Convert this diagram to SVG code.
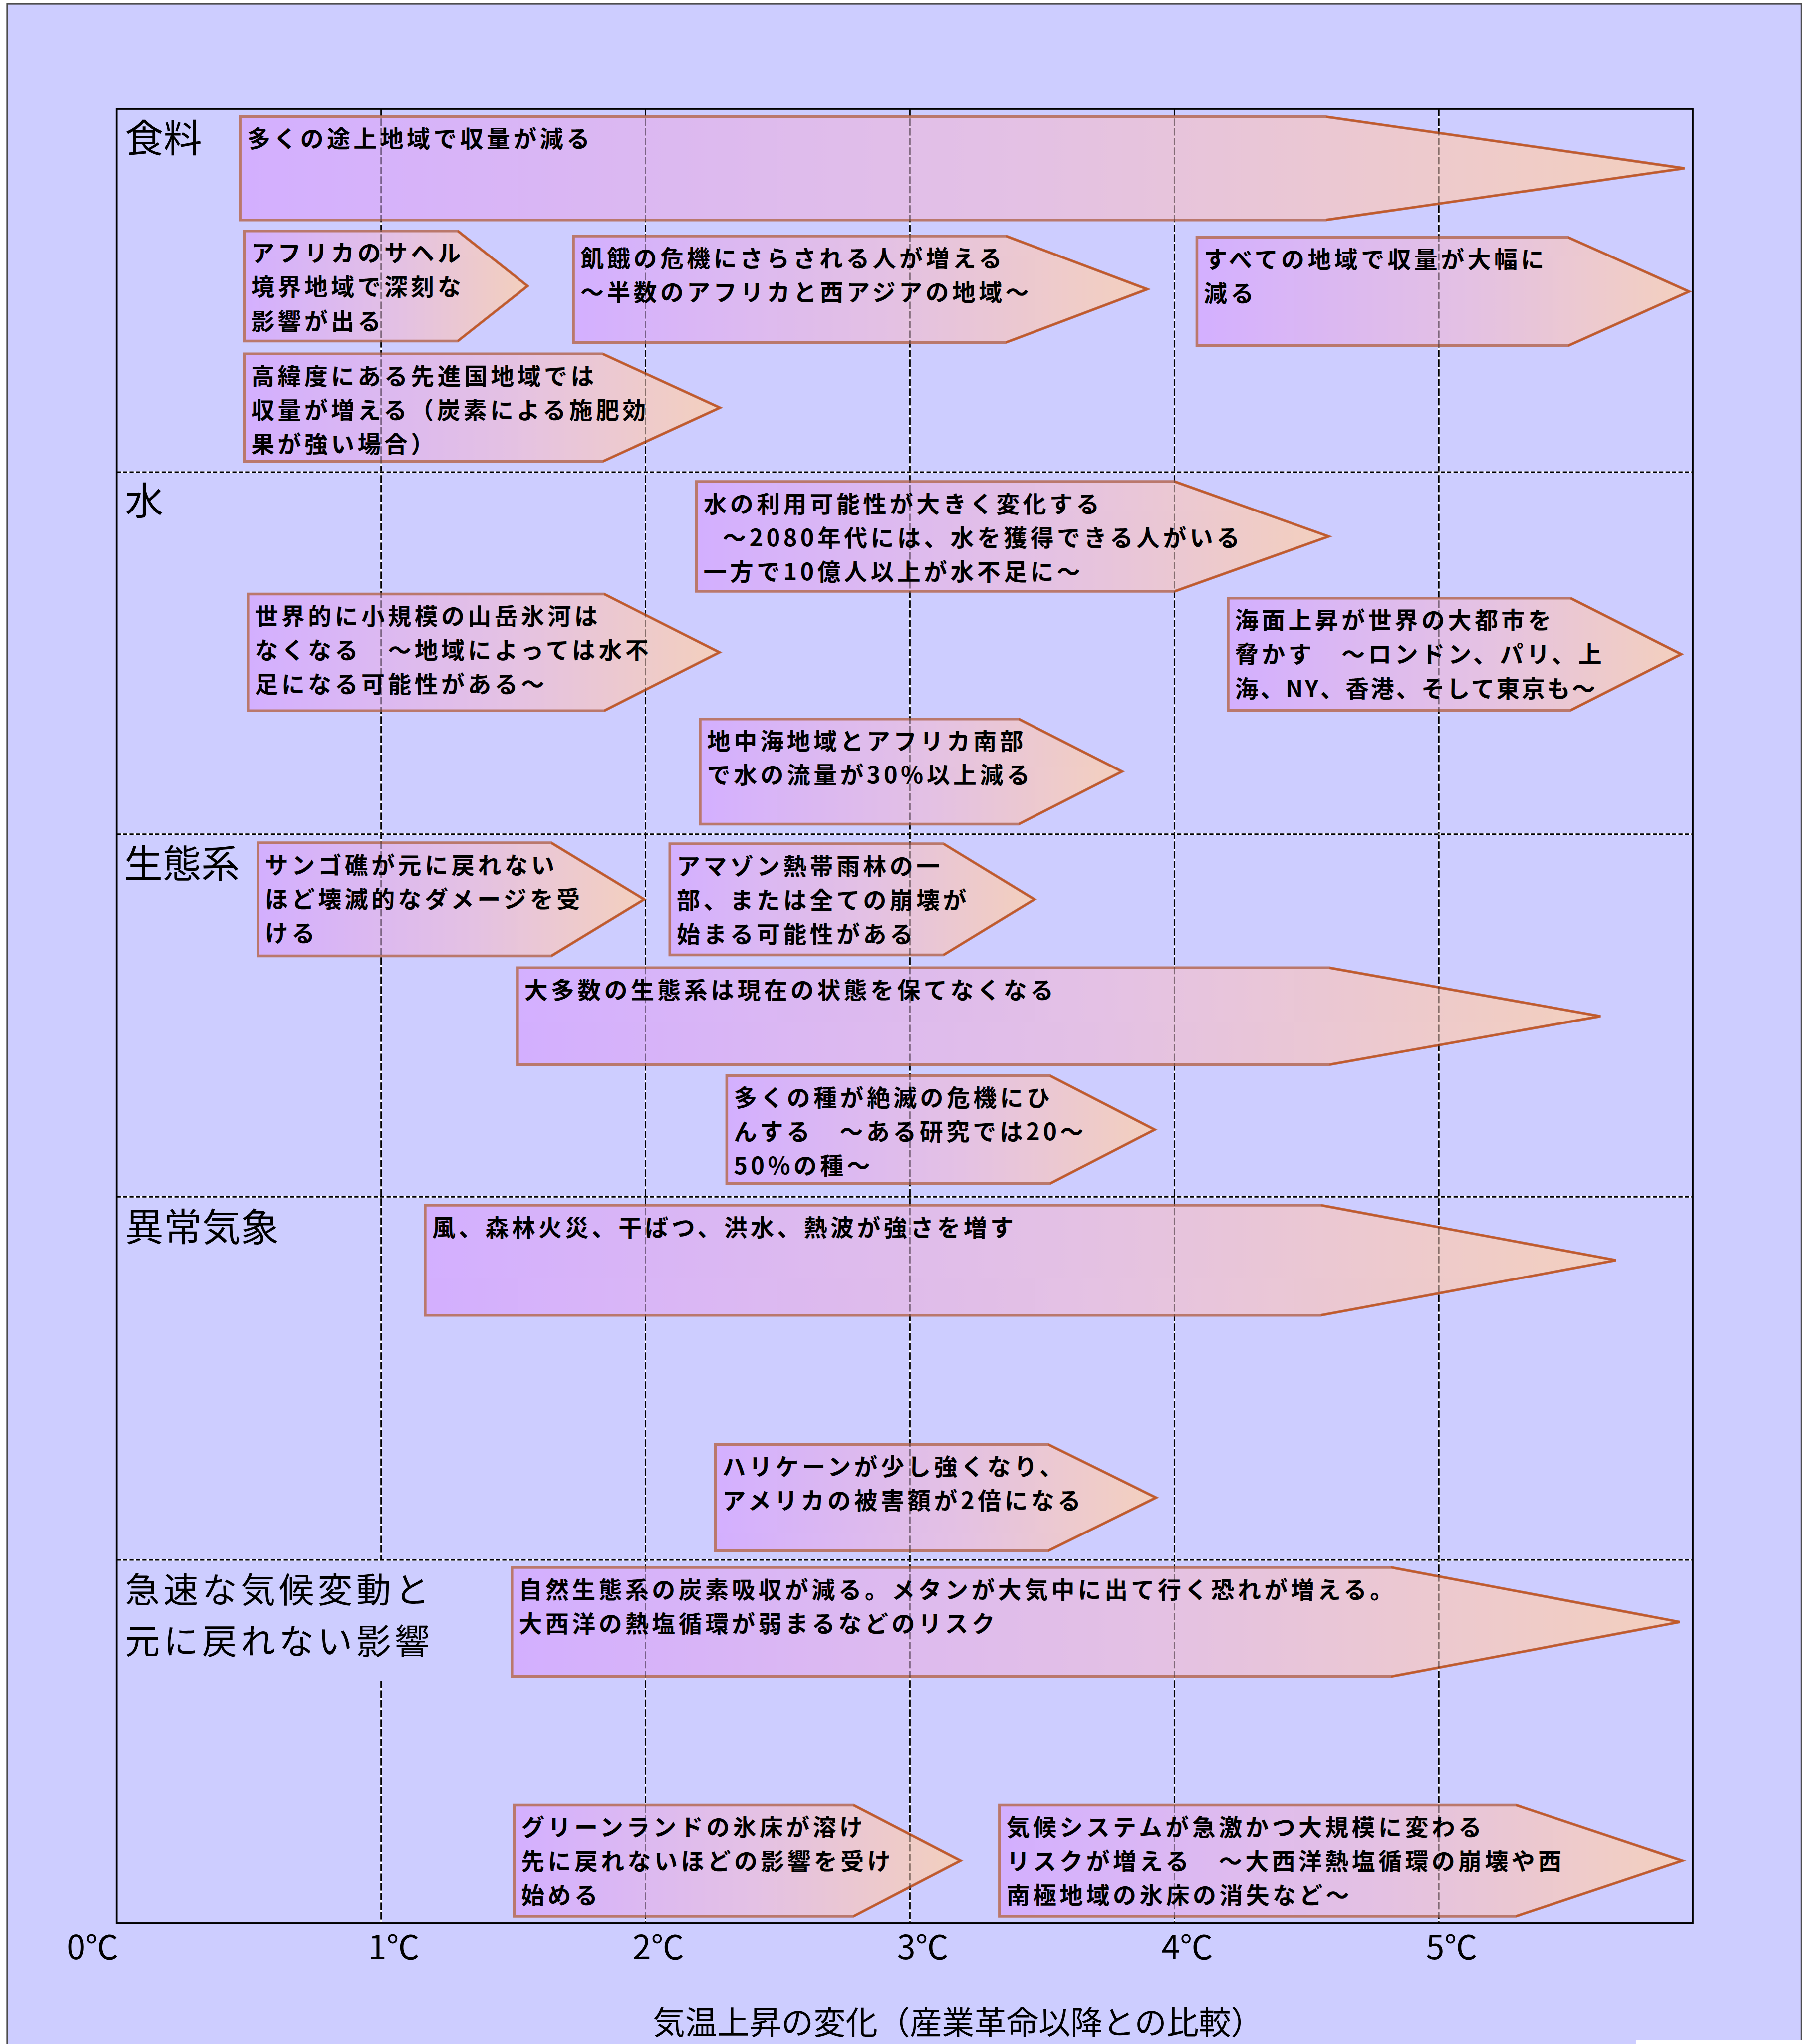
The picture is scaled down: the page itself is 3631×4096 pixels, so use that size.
<svg xmlns="http://www.w3.org/2000/svg" width="3631" height="4096" viewBox="0 0 3631 4096">
<defs>
<linearGradient id="g" x1="0" y1="0" x2="1" y2="0">
<stop offset="0" stop-color="#D4AAFF"/>
<stop offset="0.55" stop-color="#E8BFDF"/>
<stop offset="1" stop-color="#FAD0B2"/>
</linearGradient>
<style>
.arrow polygon{fill:url(#g);fill-opacity:0.85;stroke:#BA786C;stroke-width:6;stroke-linejoin:miter}
.arrow polyline{fill:none;stroke:#C25A2A;stroke-width:4}
.arrow text{font-family:"Noto Sans CJK JP","Noto Sans CJK SC",sans-serif;font-size:51px;letter-spacing:7px;font-weight:700;fill:#000}
.lbl{font-family:"Noto Sans CJK JP","Noto Sans CJK SC",sans-serif;font-size:84px;fill:#000}
.lbl2{font-family:"Noto Sans CJK JP","Noto Sans CJK SC",sans-serif;font-size:76px;letter-spacing:8px;fill:#000}
.ax{font-family:"Noto Sans CJK JP","Noto Sans CJK SC",sans-serif;font-size:72px;fill:#000;text-anchor:middle}
.ttl{font-family:"Noto Sans CJK JP","Noto Sans CJK SC",sans-serif;font-size:70px;fill:#000}
.vw{stroke:#fff;stroke-width:3}
.vd{stroke:#000;stroke-width:3;stroke-dasharray:16 5}
.hd{stroke:#000;stroke-width:3;stroke-dasharray:9 5}
.ov{stroke:#000;stroke-width:3;stroke-dasharray:16 5;opacity:0.35}
</style>
</defs>
<g transform="scale(0.92)">
<rect width="3946" height="4451" fill="#fff"/>
<rect x="16" y="9" width="3907" height="4460" fill="#CDCDFF" stroke="#4d4d4d" stroke-width="3"/>
<rect x="3563" y="4443" width="362" height="10" fill="#fff"/>

<g id="grid">
<g class="vw">
<line x1="830" y1="237" x2="830" y2="3398"/><line x1="830" y1="3661" x2="830" y2="4189"/>
<line x1="1406" y1="237" x2="1406" y2="4189"/>
<line x1="1982" y1="237" x2="1982" y2="4189"/>
<line x1="2558" y1="237" x2="2558" y2="4189"/>
<line x1="3134" y1="237" x2="3134" y2="4189"/>
</g>
<g class="vd">
<line x1="830" y1="237" x2="830" y2="3398"/><line x1="830" y1="3661" x2="830" y2="4189"/>
<line x1="1406" y1="237" x2="1406" y2="4189"/>
<line x1="1982" y1="237" x2="1982" y2="4189"/>
<line x1="2558" y1="237" x2="2558" y2="4189"/>
<line x1="3134" y1="237" x2="3134" y2="4189"/>
</g>
<g class="vw">
<line x1="254" y1="1028" x2="3687" y2="1028"/>
<line x1="254" y1="1817" x2="3687" y2="1817"/>
<line x1="254" y1="2607" x2="3687" y2="2607"/>
<line x1="254" y1="3398" x2="3687" y2="3398"/>
</g>
<g class="hd">
<line x1="254" y1="1028" x2="3687" y2="1028"/>
<line x1="254" y1="1817" x2="3687" y2="1817"/>
<line x1="254" y1="2607" x2="3687" y2="2607"/>
<line x1="254" y1="3398" x2="3687" y2="3398"/>
</g>
<rect x="254" y="237" width="3433" height="3952" fill="none" stroke="#000" stroke-width="4"/>
</g>

<g id="labels">
<text class="lbl" x="272" y="331">食料</text>
<text class="lbl" x="272" y="1122">水</text>
<text class="lbl" x="270" y="1912">生態系</text>
<text class="lbl" x="272" y="2703">異常気象</text>
<text class="lbl2"><tspan x="272" y="3491">急速な気候変動と</tspan><tspan x="272" y="3603">元に戻れない影響</tspan></text>
</g>

<g id="A1" class="arrow"><polygon points="523,254 2888,254 3669,366.5 2888,479 523,479"/><polyline points="2888,254 3669,366.5 2888,479"/>
<text x="538" y="321">多くの途上地域で収量が減る</text></g>
<g id="A2" class="arrow"><polygon points="532,503 997,503 1149,623 997,743 532,743"/><polyline points="997,503 1149,623 997,743"/>
<text><tspan x="547" y="570">アフリカのサヘル</tspan><tspan x="547" y="644">境界地域で深刻な</tspan><tspan x="547" y="718">影響が出る</tspan></text></g>
<g id="A3" class="arrow"><polygon points="1249,514 2191,514 2499,630 2191,746 1249,746"/><polyline points="2191,514 2499,630 2191,746"/>
<text><tspan x="1264" y="581">飢餓の危機にさらされる人が増える</tspan><tspan x="1264" y="655">～半数のアフリカと西アジアの地域～</tspan></text></g>
<g id="A4" class="arrow"><polygon points="2607,517 3416,517 3679,635 3416,753 2607,753"/><polyline points="3416,517 3679,635 3416,753"/>
<text><tspan x="2622" y="584">すべての地域で収量が大幅に</tspan><tspan x="2622" y="658">減る</tspan></text></g>
<g id="A5" class="arrow"><polygon points="532,771 1313,771 1568,888 1313,1005 532,1005"/><polyline points="1313,771 1568,888 1313,1005"/>
<text><tspan x="547" y="838">高緯度にある先進国地域では</tspan><tspan x="547" y="912">収量が増える（炭素による施肥効</tspan><tspan x="547" y="986">果が強い場合）</tspan></text></g>

<g id="B1" class="arrow"><polygon points="1517,1049 2559,1049 2894,1168.5 2559,1288 1517,1288"/><polyline points="2559,1049 2894,1168.5 2559,1288"/>
<text><tspan x="1532" y="1116">水の利用可能性が大きく変化する</tspan><tspan x="1574" y="1190">～2080年代には、水を獲得できる人がいる</tspan><tspan x="1532" y="1264">一方で10億人以上が水不足に～</tspan></text></g>
<g id="B2" class="arrow"><polygon points="540,1294 1316,1294 1567,1421 1316,1548 540,1548"/><polyline points="1316,1294 1567,1421 1316,1548"/>
<text><tspan x="555" y="1361">世界的に小規模の山岳氷河は</tspan><tspan x="555" y="1435">なくなる　～地域によっては水不</tspan><tspan x="555" y="1509">足になる可能性がある～</tspan></text></g>
<g id="B3" class="arrow"><polygon points="2675,1303 3421,1303 3662,1425 3421,1547 2675,1547"/><polyline points="3421,1303 3662,1425 3421,1547"/>
<text><tspan x="2690" y="1370">海面上昇が世界の大都市を</tspan><tspan x="2690" y="1444">脅かす　～ロンドン、パリ、上</tspan><tspan x="2690" y="1518" style="letter-spacing:4px">海、NY、香港、そして東京も～</tspan></text></g>
<g id="B4" class="arrow"><polygon points="1525,1566 2219,1566 2444,1680.5 2219,1795 1525,1795"/><polyline points="2219,1566 2444,1680.5 2219,1795"/>
<text><tspan x="1540" y="1633">地中海地域とアフリカ南部</tspan><tspan x="1540" y="1707">で水の流量が30%以上減る</tspan></text></g>

<g id="C1" class="arrow"><polygon points="562,1836 1201,1836 1403,1959 1201,2082 562,2082"/><polyline points="1201,1836 1403,1959 1201,2082"/>
<text><tspan x="577" y="1903">サンゴ礁が元に戻れない</tspan><tspan x="577" y="1977">ほど壊滅的なダメージを受</tspan><tspan x="577" y="2051">ける</tspan></text></g>
<g id="C2" class="arrow"><polygon points="1459,1838 2055,1838 2253,1959 2055,2080 1459,2080"/><polyline points="2055,1838 2253,1959 2055,2080"/>
<text><tspan x="1474" y="1905">アマゾン熱帯雨林の一</tspan><tspan x="1474" y="1979">部、または全ての崩壊が</tspan><tspan x="1474" y="2053">始まる可能性がある</tspan></text></g>
<g id="C3" class="arrow"><polygon points="1127,2108 2896,2108 3486,2213.5 2896,2319 1127,2319"/><polyline points="2896,2108 3486,2213.5 2896,2319"/>
<text x="1142" y="2175">大多数の生態系は現在の状態を保てなくなる</text></g>
<g id="C4" class="arrow"><polygon points="1583,2343 2287,2343 2515,2460.5 2287,2578 1583,2578"/><polyline points="2287,2343 2515,2460.5 2287,2578"/>
<text><tspan x="1598" y="2410">多くの種が絶滅の危機にひ</tspan><tspan x="1598" y="2484">んする　～ある研究では20～</tspan><tspan x="1598" y="2558">50%の種～</tspan></text></g>

<g id="D1" class="arrow"><polygon points="926,2625 2877,2625 3520,2745 2877,2865 926,2865"/><polyline points="2877,2625 3520,2745 2877,2865"/>
<text x="941" y="2692">風、森林火災、干ばつ、洪水、熱波が強さを増す</text></g>
<g id="D2" class="arrow"><polygon points="1558,3146 2283,3146 2518,3262 2283,3378 1558,3378"/><polyline points="2283,3146 2518,3262 2283,3378"/>
<text><tspan x="1573" y="3213">ハリケーンが少し強くなり、</tspan><tspan x="1573" y="3287">アメリカの被害額が2倍になる</tspan></text></g>

<g id="E1" class="arrow"><polygon points="1115,3414 3030,3414 3659,3533 3030,3652 1115,3652"/><polyline points="3030,3414 3659,3533 3030,3652"/>
<text><tspan x="1130" y="3481">自然生態系の炭素吸収が減る。メタンが大気中に出て行く恐れが増える。</tspan><tspan x="1130" y="3555">大西洋の熱塩循環が弱まるなどのリスク</tspan></text></g>
<g id="E2" class="arrow"><polygon points="1120,3932 1859,3932 2092,4053 1859,4174 1120,4174"/><polyline points="1859,3932 2092,4053 1859,4174"/>
<text><tspan x="1135" y="3999">グリーンランドの氷床が溶け</tspan><tspan x="1135" y="4073">先に戻れないほどの影響を受け</tspan><tspan x="1135" y="4147">始める</tspan></text></g>
<g id="E3" class="arrow"><polygon points="2177,3932 3302,3932 3664,4053 3302,4174 2177,4174"/><polyline points="3302,3932 3664,4053 3302,4174"/>
<text><tspan x="2192" y="3999">気候システムが急激かつ大規模に変わる</tspan><tspan x="2192" y="4073">リスクが増える　～大西洋熱塩循環の崩壊や西</tspan><tspan x="2192" y="4147">南極地域の氷床の消失など～</tspan></text></g>

<g id="grid-overlay" class="ov">
<line x1="830" y1="237" x2="830" y2="3398"/><line x1="830" y1="3661" x2="830" y2="4189"/>
<line x1="1406" y1="237" x2="1406" y2="4189"/>
<line x1="1982" y1="237" x2="1982" y2="4189"/>
<line x1="2558" y1="237" x2="2558" y2="4189"/>
<line x1="3134" y1="237" x2="3134" y2="4189"/>
</g>

<g id="axis">
<text class="ax" x="202" y="4267">0℃</text>
<text class="ax" x="858" y="4267">1℃</text>
<text class="ax" x="1434" y="4267">2℃</text>
<text class="ax" x="2010" y="4267">3℃</text>
<text class="ax" x="2586" y="4267">4℃</text>
<text class="ax" x="3162" y="4267">5℃</text>
<text class="ttl" x="1422" y="4430">気温上昇の変化（産業革命以降との比較）</text>
</g>
</g>
</svg>
